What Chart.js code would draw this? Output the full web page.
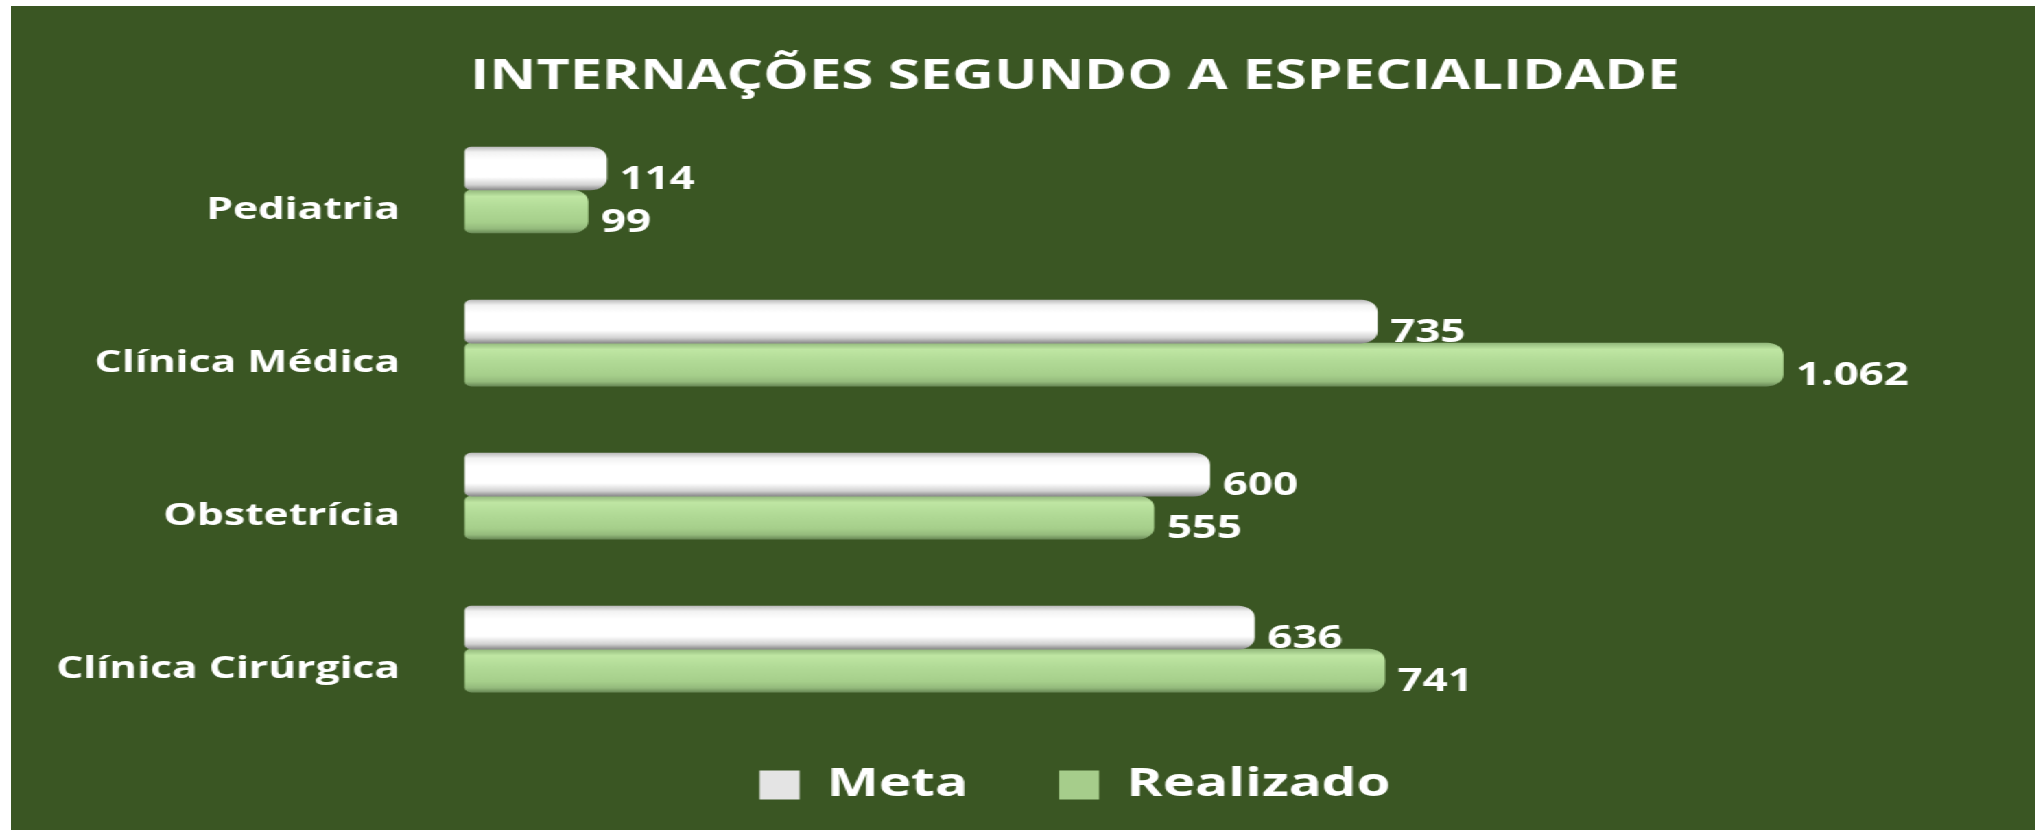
<!DOCTYPE html>
<html>
<head>
<meta charset="utf-8">
<script src="https://cdn.jsdelivr.net/npm/chart.js@4.4.1/dist/chart.umd.min.js"></script>
<style>
  html, body { margin: 0; padding: 0; background: #fff; overflow: hidden; }
  #wrap { position: absolute; left: 11px; top: 6px; height: 824px; transform-origin: 0 0; background: #3a5623; }
</style>
</head>
<body>
<div id="wrap"><canvas id="barChart"></canvas></div>
<script>
const categories = ['Pediatria', 'Clínica Médica', 'Obstetrícia', 'Clínica Cirúrgica'];
const metaValues = [114, 735, 600, 636];
const realizadoValues = [99, 1062, 555, 741];
const seriesNames = ['Meta', 'Realizado'];
const chartTitle = 'INTERNAÇÕES SEGUNDO A ESPECIALIDADE';

// the reference picture is stretched sideways, so the chart is drawn narrow and scaled
const SX = 1.372;
const u = (px) => (px - 11) / SX;
const T = 43;
const legendFills = ['#e4e4e4', '#a6cd8b'];

const wrap = document.getElementById('wrap');
wrap.style.width = (2024 / SX) + 'px';
wrap.style.transform = 'scaleX(' + SX + ')';

const fmt = (v) => String(v).replace(/\B(?=(\d{3})+(?!\d))/g, '.');

function barFill(flat, stops) {
  return (c) => {
    if (c.type !== 'data' || !c.chart.scales.y) return flat;
    const center = c.chart.scales.y.getPixelForValue(c.dataIndex) + (c.datasetIndex === 0 ? -T / 2 : T / 2);
    if (!isFinite(center)) return flat;
    const g = c.chart.ctx.createLinearGradient(0, center - T / 2, 0, center + T / 2);
    stops.forEach(([o, col]) => g.addColorStop(o, col));
    return g;
  };
}

const valueLabels = {
  id: 'valueLabels',
  afterDatasetsDraw(chart) {
    const ctx = chart.ctx;
    ctx.save();
    ctx.font = 'bold 32px "Open Sans"';
    ctx.fillStyle = '#ffffff';
    ctx.textBaseline = 'middle';
    ctx.textAlign = 'left';
    chart.data.datasets.forEach((ds, di) => {
      chart.getDatasetMeta(di).data.forEach((bar, i) => {
        ctx.fillText(fmt(ds.data[i]), bar.x + 13 / SX, bar.y + 11);
      });
    });
    ctx.restore();
  }
};

Chart.defaults.font.family = '"Open Sans"';
Chart.defaults.color = '#ffffff';

const data = {
  labels: categories,
  datasets: [{
    label: seriesNames[0],
    data: metaValues,
    backgroundColor: barFill('#e9e9e9', [[0, '#bdbdbd'], [0.12, '#f2f2f2'], [0.3, '#ffffff'], [0.7, '#ffffff'], [0.88, '#d2d2d2'], [1, '#8a8a8a']]),
    borderWidth: 0,
    borderSkipped: false,
    borderRadius: { topLeft: 5, bottomLeft: 5, topRight: 12, bottomRight: 12 },
    barThickness: T,
    clip: false
  }, {
    label: seriesNames[1],
    data: realizadoValues,
    backgroundColor: barFill('#a9d18e', [[0, '#93b97c'], [0.15, '#bfe6a3'], [0.4, '#b2db97'], [0.75, '#a6cf8b'], [0.9, '#94ba7c'], [1, '#6a8a57']]),
    borderWidth: 0,
    borderSkipped: false,
    borderRadius: { topLeft: 5, bottomLeft: 5, topRight: 12, bottomRight: 12 },
    barThickness: T,
    clip: false
  }]
};

const config = {
  type: 'bar',
  data: data,
  options: {
    indexAxis: 'y',
    responsive: true,
    maintainAspectRatio: false,
    animation: false,
    layout: { padding: { left: 0, right: -104 / SX, top: 0, bottom: 15 } },
    scales: {
      x: {
        min: 0,
        max: 1265,
        ticks: { display: false },
        grid: { display: false },
        border: { display: false },
        afterFit: (s) => { s.height = 49.5; }
      },
      y: {
        offset: false,
        grid: { display: false, drawTicks: false },
        border: { display: false },
        ticks: {
          color: '#ffffff',
          font: { size: 31, weight: 'bold' },
          padding: (465 - 400) / SX,
          labelOffset: 20
        },
        afterFit: (s) => { s.width = u(465); }
      }
    },
    plugins: {
      title: {
        display: true,
        text: chartTitle,
        color: '#ffffff',
        font: { size: 42, weight: 'bold', lineHeight: 1.2 },
        padding: { top: 46, bottom: 87.6 }
      },
      legend: {
        position: 'bottom',
        labels: {
          color: '#ffffff',
          font: { size: 40, weight: 'bold' },
          boxWidth: 40 / SX,
          boxHeight: 29,
          padding: 91 / SX,
          generateLabels: (chart) => Chart.defaults.plugins.legend.labels.generateLabels(chart)
            .map((item, i) => Object.assign(item, { fillStyle: legendFills[i], lineWidth: 0 }))
        }
      },
      tooltip: { enabled: false }
    }
  },
  plugins: [valueLabels]
};

const barChart = new Chart(document.getElementById('barChart'), config);
</script>
</body>
</html>
